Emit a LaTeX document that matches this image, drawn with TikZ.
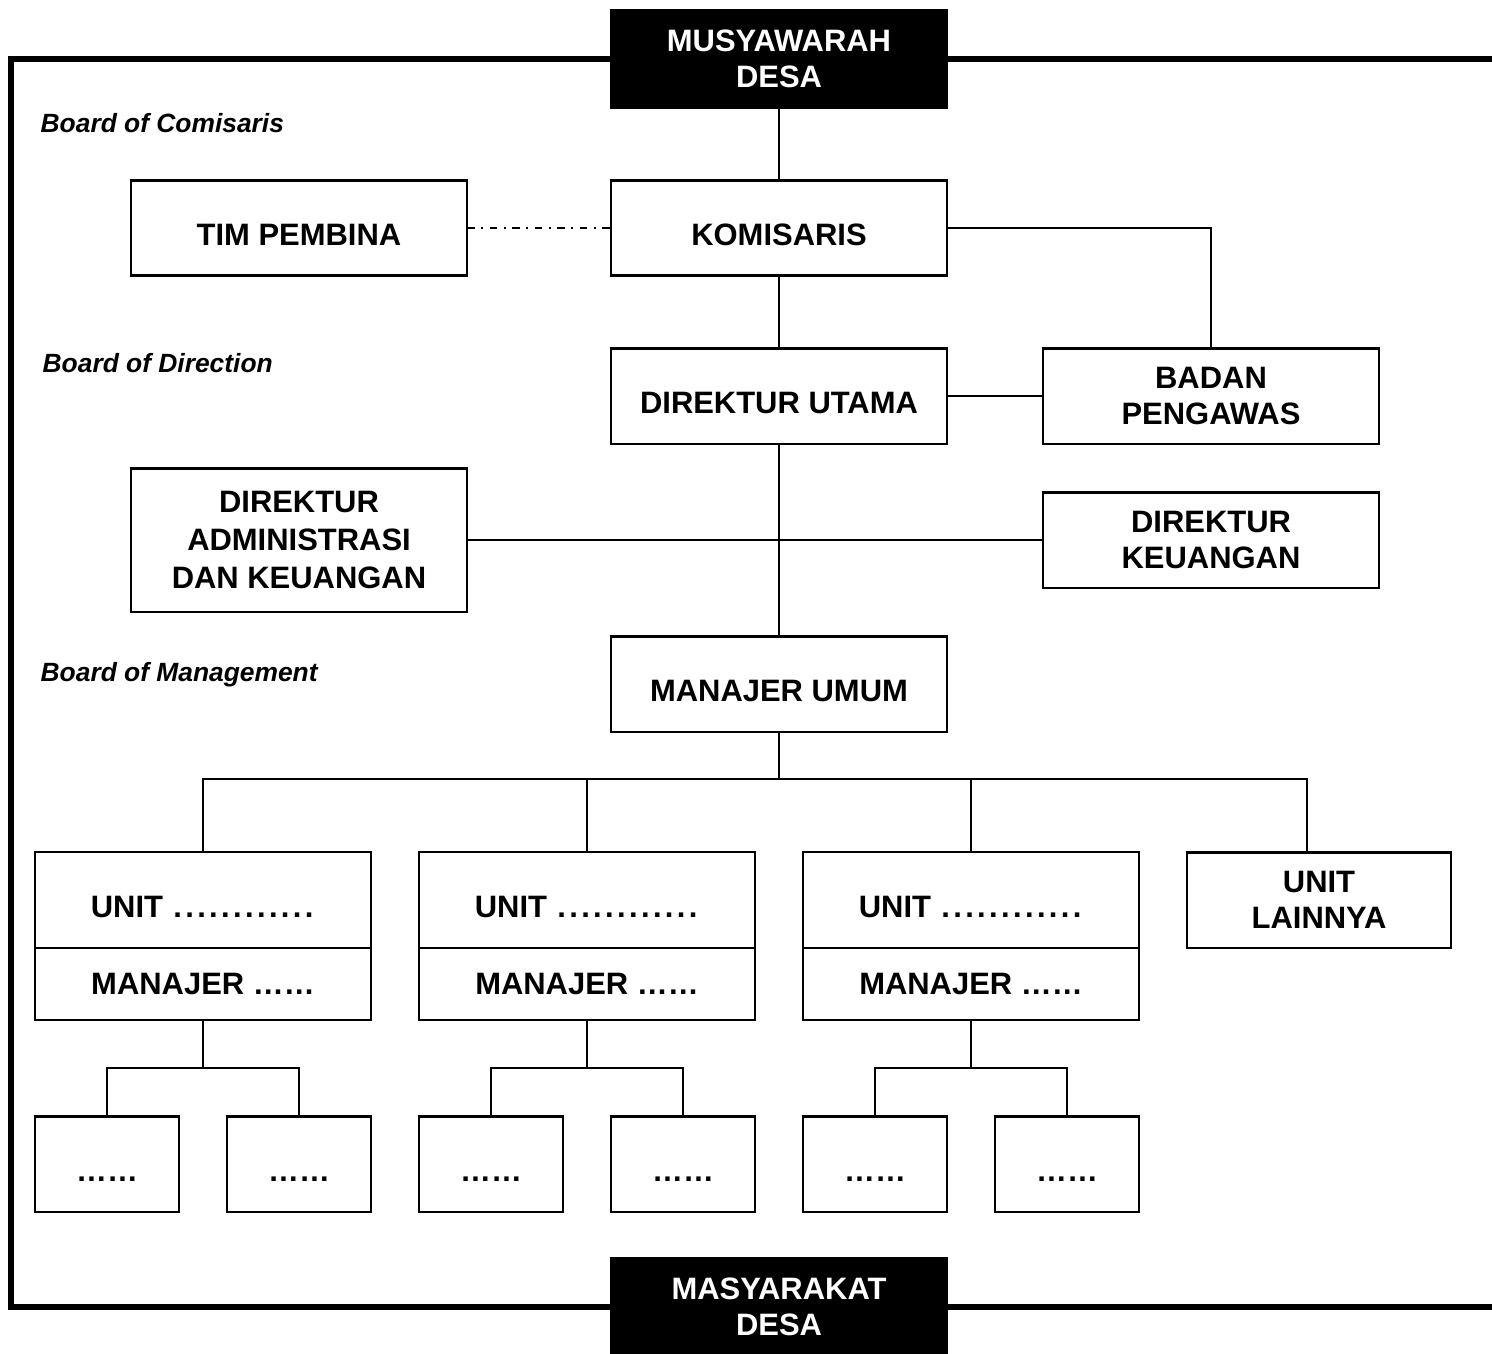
\documentclass[tikz,border=0pt]{standalone}
\usepackage{fontspec}
\setmainfont{Liberation Sans}
\usetikzlibrary{positioning}

\newcommand{\titikunit}{\makebox[3.4pt][c]{.}\makebox[3.4pt][c]{.}\makebox[3.4pt][c]{.}}

\begin{document}
\begin{tikzpicture}[x=0.01cm, y=-0.01cm,
		blok/.style = { draw, line width=0.6pt, minimum width=3.36cm, minimum height=0.95cm, inner sep=0pt, outer sep=0pt, align=center, font=\fontsize{8.8pt}{10.2pt}\selectfont\bfseries },
		satu/.style = { text height=10.2pt, text depth=0pt },
		hitam/.style = { blok, fill=black, text=white, minimum height=0.97cm },
		kecil/.style = { blok, satu, minimum width=1.44cm },
		dewan/.style = { anchor=west, inner sep=0pt, font=\fontsize{7.5pt}{9pt}\selectfont\bfseries\itshape },
		garis/.style = { line width=0.6pt },
		putus/.style = { line width=0.6pt, dash pattern=on 2.2pt off 1.8pt on 0.6pt off 1.8pt },
		bingkai/.style = { line width=1.7pt, line join=miter }]
		\useasboundingbox ( 0, 0 ) rectangle ( 1492, 1353 );

		% рамка
		\coordinate (ramkaKA) at ( 1492, 59 );
		\coordinate (ramkaKI) at ( 11, 59 );
		\coordinate (ramkaBI) at ( 11, 1307 );
		\coordinate (ramkaBA) at ( 1492, 1307 );
		\draw [bingkai] ( 611, 59 ) -- (ramkaKI) -- (ramkaBI) -- ( 611, 1307 );
		\draw [bingkai] ( 947, 59 ) -- (ramkaKA);
		\draw [bingkai] ( 947, 1307 ) -- (ramkaBA);

		% верх и низ
		\node [hitam] (musy) at ( 779, 59 ) {MUSYAWARAH\\DESA};
		\node [hitam] (masy) at ( 779, 1307 ) {MASYARAKAT\\DESA};

		% надписи уровней
		\node [dewan] (bkom) at ( 40, 123 ) {Board of Comisaris};
		\node [dewan] (bdir) at ( 42, 363 ) {Board of Direction};
		\node [dewan] (bman) at ( 40, 675 ) {Board of Management};

		% комиссары
		\node [blok, satu] (pembina) at ( 299, 228 ) {TIM PEMBINA};
		\node [blok, satu] (kom) at ( 779, 228 ) {KOMISARIS};

		% дирекция
		\node [blok, satu] (dirut) at ( 779, 396 ) {DIREKTUR UTAMA};
		\node [blok] (badan) at ( 1211, 396 ) {BADAN\\PENGAWAS};
		\node [blok, minimum height=1.43cm, font=\fontsize{8.8pt}{10.7pt}\selectfont\bfseries] (diradm) at ( 299, 540 ) {DIREKTUR\\ADMINISTRASI\\DAN KEUANGAN};
		\node [blok] (dirkeu) at ( 1211, 540 ) {DIREKTUR\\KEUANGAN};

		% управление
		\node [blok, satu] (manum) at ( 779, 684 ) {MANAJER UMUM};

		% блоки ( 1 )
		\node [blok, satu, minimum height=0.96cm] (unitA) at ( 203, 900 ) {UNIT \titikunit\titikunit\titikunit\titikunit};
		\node [blok, minimum height=0.72cm, below=0pt of unitA] (manA) {MANAJER ……};
		\node [kecil] (subA1) at ( 107, 1164 ) {……};
		\node [kecil] (subA2) at ( 299, 1164 ) {……};

		% блоки ( 2 )
		\node [blok, satu, minimum height=0.96cm] (unitB) at ( 587, 900 ) {UNIT \titikunit\titikunit\titikunit\titikunit};
		\node [blok, minimum height=0.72cm, below=0pt of unitB] (manB) {MANAJER ……};
		\node [kecil] (subB1) at ( 491, 1164 ) {……};
		\node [kecil] (subB2) at ( 683, 1164 ) {……};

		% блоки ( 3 )
		\node [blok, satu, minimum height=0.96cm] (unitC) at ( 971, 900 ) {UNIT \titikunit\titikunit\titikunit\titikunit};
		\node [blok, minimum height=0.72cm, below=0pt of unitC] (manC) {MANAJER ……};
		\node [kecil] (subC1) at ( 875, 1164 ) {……};
		\node [kecil] (subC2) at ( 1067, 1164 ) {……};

		% блок ( 4 )
		\node [blok, minimum width=2.64cm] (lain) at ( 1319, 900 ) {UNIT\\LAINNYA};

		% связи
		\draw [garis] (musy) -- (kom);
		\draw [putus] (pembina) -- (kom);
		\draw [garis] (kom.east) -| (badan.north);
		\draw [garis] (kom) -- (dirut);
		\draw [garis] (dirut) -- (badan);
		\draw [garis] (dirut) -- (manum);
		\draw [garis] (diradm) -- (dirkeu);

		\coordinate (bus) at ( 779, 779 );
		\draw [garis] (manum) -- (bus);
		\draw [garis] (bus) -| (unitA.north);
		\draw [garis] (bus) -| (unitB.north);
		\draw [garis] (bus) -| (unitC.north);
		\draw [garis] (bus) -| ([xshift=-0.12cm]lain.north);

		\coordinate (busA) at ( 203, 1068 );
		\draw [garis] (manA) -- (busA);
		\draw [garis] (busA) -| (subA1.north);
		\draw [garis] (busA) -| (subA2.north);

		\coordinate (busB) at ( 587, 1068 );
		\draw [garis] (manB) -- (busB);
		\draw [garis] (busB) -| (subB1.north);
		\draw [garis] (busB) -| (subB2.north);

		\coordinate (busC) at ( 971, 1068 );
		\draw [garis] (manC) -- (busC);
		\draw [garis] (busC) -| (subC1.north);
		\draw [garis] (busC) -| (subC2.north);
	\end{tikzpicture}
\end{document}
